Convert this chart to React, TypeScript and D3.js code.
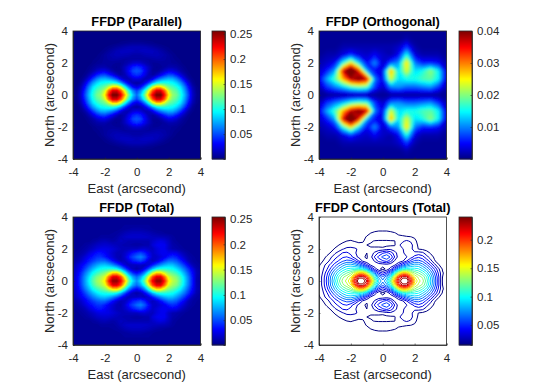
import React, { useRef, useEffect } from 'react'
import * as d3 from 'd3'

// x >= 0, y >= 0 quadrant, sampled every 0.25 arcsec from (0,0) outwards
const parallelRows = [
  [.06,.085,.125,.18,.23,.26,.26,.22,.165,.135,.125,.105,.08,.05,.02,.007,.003],
  [.05,.07,.105,.155,.205,.235,.235,.2,.15,.128,.118,.1,.075,.045,.018,.006,.003],
  [.025,.035,.062,.1,.145,.17,.17,.148,.125,.115,.105,.09,.065,.036,.014,.005,.003],
  [.01,.014,.027,.048,.075,.096,.105,.105,.102,.098,.088,.072,.048,.024,.008,.003,.003],
  [.025,.022,.015,.017,.03,.05,.065,.075,.08,.078,.066,.048,.028,.012,.005,.003,.003],
  [.045,.04,.027,.014,.01,.018,.03,.042,.052,.05,.04,.026,.014,.006,.003,.003,.003],
  [.055,.05,.033,.018,.008,.007,.012,.02,.027,.026,.02,.012,.007,.004,.003,.003,.003],
  [.045,.04,.028,.017,.009,.006,.007,.01,.013,.013,.011,.008,.005,.003,.003,.003,.003],
  [.022,.02,.015,.011,.008,.008,.009,.009,.009,.008,.007,.005,.003,.003,.003,.003,.003],
  [.01,.01,.01,.01,.011,.012,.012,.011,.009,.007,.005,.004,.003,.003,.003,.003,.003],
  [.012,.012,.014,.015,.016,.016,.014,.012,.009,.006,.004,.003,.003,.003,.003,.003,.003],
  [.016,.017,.018,.018,.017,.015,.012,.009,.006,.004,.003,.003,.003,.003,.003,.003,.003],
  [.015,.015,.015,.013,.011,.009,.007,.005,.004,.003,.003,.003,.003,.003,.003,.003,.003],
  [.008,.008,.007,.006,.005,.004,.003,.003,.003,.003,.003,.003,.003,.003,.003,.003,.003],
  [.003,.003,.003,.003,.003,.003,.003,.003,.003,.003,.003,.003,.003,.003,.003,.003,.003],
  [.003,.003,.003,.003,.003,.003,.003,.003,.003,.003,.003,.003,.003,.003,.003,.003,.003],
  [.003,.003,.003,.003,.003,.003,.003,.003,.003,.003,.003,.003,.003,.003,.003,.003,.003],
]

// total map, y >= 0, columns run outwards from x = 0 towards x = -4
const totalLeft = [
  [.07,.09,.125,.18,.225,.25,.25,.215,.165,.145,.135,.118,.095,.072,.05,.03,.017],
  [.06,.075,.105,.155,.205,.23,.23,.195,.152,.138,.128,.112,.09,.07,.048,.03,.017],
  [.035,.045,.068,.105,.145,.17,.168,.148,.13,.12,.11,.098,.08,.062,.043,.027,.016],
  [.012,.017,.032,.055,.08,.098,.105,.105,.103,.1,.092,.08,.066,.05,.035,.024,.016],
  [.018,.017,.017,.024,.04,.055,.068,.078,.083,.082,.074,.064,.052,.04,.03,.021,.0135],
  [.045,.04,.027,.018,.016,.024,.036,.05,.06,.06,.056,.048,.04,.03,.021,.015,.011],
  [.06,.05,.038,.022,.014,.016,.023,.03,.04,.047,.045,.039,.032,.024,.0165,.012,.009],
  [.045,.038,.028,.02,.015,.016,.021,.027,.033,.038,.037,.03,.024,.016,.012,.01,.008],
  [.018,.018,.017,.016,.017,.02,.024,.027,.028,.028,.025,.02,.016,.012,.01,.008,.008],
  [.011,.012,.013,.014,.015,.017,.019,.021,.022,.021,.019,.015,.012,.01,.008,.008,.008],
  [.014,.014,.0145,.016,.018,.014,.012,.014,.016,.015,.012,.01,.008,.008,.008,.008,.008],
  [.021,.021,.021,.019,.016,.012,.01,.01,.01,.01,.008,.008,.008,.008,.008,.008,.008],
  [.018,.018,.017,.015,.012,.01,.009,.008,.008,.008,.008,.008,.008,.008,.008,.008,.008],
  [.012,.012,.011,.01,.009,.008,.008,.008,.008,.008,.008,.008,.008,.008,.008,.008,.008],
  [.009,.009,.009,.009,.008,.008,.008,.008,.008,.008,.008,.008,.008,.008,.008,.008,.008],
  [.008,.008,.008,.008,.008,.008,.008,.008,.008,.008,.008,.008,.008,.008,.008,.008,.008],
  [.008,.008,.008,.008,.008,.008,.008,.008,.008,.008,.008,.008,.008,.008,.008,.008,.008],
]

// total map, y >= 0, columns run from x = 0 to x = 4
const totalRight = [
  [.07,.09,.125,.18,.225,.25,.25,.215,.165,.145,.135,.115,.09,.065,.038,.014,.01],
  [.06,.075,.105,.155,.205,.23,.23,.195,.152,.138,.128,.11,.087,.063,.038,.015,.01],
  [.035,.045,.068,.105,.145,.17,.168,.148,.13,.12,.11,.095,.076,.055,.034,.016,.011],
  [.012,.017,.032,.055,.08,.098,.105,.105,.103,.1,.09,.078,.062,.045,.028,.014,.01],
  [.018,.02,.017,.024,.04,.055,.068,.078,.083,.082,.072,.06,.046,.03,.016,.011,.009],
  [.045,.05,.04,.024,.017,.024,.036,.05,.06,.06,.055,.043,.03,.016,.011,.009,.008],
  [.06,.066,.055,.036,.02,.02,.025,.03,.04,.045,.04,.03,.02,.013,.01,.008,.008],
  [.045,.05,.042,.03,.02,.024,.029,.03,.028,.03,.028,.02,.014,.01,.008,.008,.008],
  [.018,.022,.023,.02,.018,.025,.029,.029,.02,.0145,.013,.011,.009,.008,.008,.008,.008],
  [.011,.012,.013,.014,.024,.029,.031,.03,.02,.013,.011,.009,.008,.008,.008,.008,.008],
  [.014,.014,.0145,.0148,.02,.024,.027,.024,.018,.011,.009,.008,.008,.008,.008,.008,.008],
  [.021,.021,.02,.019,.017,.017,.016,.0155,.0135,.01,.008,.008,.008,.008,.008,.008,.008],
  [.018,.018,.017,.0155,.013,.011,.01,.009,.008,.008,.008,.008,.008,.008,.008,.008,.008],
  [.012,.012,.011,.01,.009,.008,.008,.008,.008,.008,.008,.008,.008,.008,.008,.008,.008],
  [.009,.009,.009,.009,.008,.008,.008,.008,.008,.008,.008,.008,.008,.008,.008,.008,.008],
  [.008,.008,.008,.008,.008,.008,.008,.008,.008,.008,.008,.008,.008,.008,.008,.008,.008],
  [.008,.008,.008,.008,.008,.008,.008,.008,.008,.008,.008,.008,.008,.008,.008,.008,.008],
]

// y >= 0 only, x from -4 to 4 every 0.5 arcsec, y from 0 to 4 every 0.5
const orthogonalRows = [
  [.001,.001,.001,.001,.001,.001,.001,.001,.001,.001,.001,.001,.001,.001,.001,.001,.001],
  [.002,.007,.010,.013,.017,.019,.018,.007,.003,.010,.011,.009,.009,.010,.011,.007,.002],
  [.004,.012,.018,.028,.038,.041,.037,.010,.004,.024,.014,.016,.016,.018,.019,.015,.003],
  [.003,.006,.012,.036,.048,.035,.012,.005,.004,.029,.014,.024,.014,.016,.021,.015,.003],
  [.002,.003,.005,.016,.026,.014,.005,.011,.003,.008,.011,.027,.010,.006,.006,.005,.002],
  [.001,.002,.002,.004,.007,.004,.003,.005,.003,.002,.005,.016,.004,.002,.002,.002,.001],
  [.001,.001,.001,.002,.002,.002,.002,.002,.002,.002,.003,.007,.002,.001,.001,.001,.001],
  [.001,.001,.001,.001,.001,.001,.001,.001,.001,.001,.001,.002,.001,.001,.001,.001,.001],
  [.001,.001,.001,.001,.001,.001,.001,.001,.001,.001,.001,.001,.001,.001,.001,.001,.001],
]

const axisTicks = [-4, -2, 0, 2, 4]
const contourLevels = d3.range(0.015, 0.245, 0.0105)

const mirrorX = (rows: number[][]) => rows.map(r => r.slice(1).reverse().concat(r))
const joinHalves = (left: number[][], right: number[][]) => left.map((r, i) => r.slice(1).reverse().concat(right[i]))
const totalHalf = joinHalves(totalLeft, totalRight)

const panels = [
  { title: 'FFDP (Parallel)', left: 73, top: 31, barLeft: 212, domain: [0.0003, 0.256], barTicks: [0.05, 0.1, 0.15, 0.2, 0.25], half: mirrorX(parallelRows), kind: 'map', blur: 0.7, ylabelX: 54 },
  { title: 'FFDP (Orthogonal)', left: 319, top: 31, barLeft: 459, domain: [0, 0.04], barTicks: [0.01, 0.02, 0.03, 0.04], half: orthogonalRows, kind: 'map', blur: 1.5, ylabelX: 300 },
  { title: 'FFDP (Total)', left: 73, top: 217, barLeft: 212, domain: [0.001, 0.254], barTicks: [0.05, 0.1, 0.15, 0.2, 0.25], half: totalHalf, kind: 'map', blur: 0.7, ylabelX: 54 },
  { title: 'FFDP Contours (Total)', left: 319, top: 217, barLeft: 459, domain: [0.015, 0.24], barTicks: [0.05, 0.1, 0.15, 0.2], half: totalHalf, kind: 'contour', blur: 0, ylabelX: 300 },
]

const axisWidth = 127.5
const axisHeight = 128
const barWidth = 13
const ink = '#262626'
const fontFamily = '"Liberation Sans", Arial, sans-serif'

function jet(t: number) {
  const c = (v: number) => Math.round(255 * Math.max(0, Math.min(1, v)))
  return `rgb(${c(Math.min(4 * t - 1.5, -4 * t + 4.5))},${c(Math.min(4 * t - 0.5, -4 * t + 3.5))},${c(Math.min(4 * t + 0.5, -4 * t + 2.5))})`
}

export default function App() {
  const svgRef = useRef<SVGSVGElement>(null)

  useEffect(() => {
    const svg = d3.select(svgRef.current)
    svg.selectAll('*').remove()
    const defs = svg.append('defs')

    panels.forEach((p, idx) => {
      const x = d3.scaleLinear().domain([-4, 4]).range([p.left, p.left + axisWidth])
      const y = d3.scaleLinear().domain([-4, 4]).range([p.top + axisHeight, p.top])
      const color = d3.scaleLinear().domain(p.domain).range([0, 1]).clamp(true)

      // rows are stored from y = 0 upwards, the grid runs from the top of the picture down
      const grid = p.half.slice().reverse().concat(p.half.slice(1))
      const ny = grid.length
      const nx = grid[0].length
      const values = grid.flat()
      const gx = d3.scaleLinear().domain([0.5, nx - 0.5]).range([x(-4), x(4)])
      const gy = d3.scaleLinear().domain([0.5, ny - 0.5]).range([y(4), y(-4)])
      const project = d3.geoTransform({
        point(px, py) { this.stream.point(gx(px), gy(py)) },
      })
      const path = d3.geoPath(project)
      const contourGen = d3.contours().size([nx, ny])

      defs.append('clipPath').attr('id', `clip${idx}`)
        .append('rect').attr('x', p.left).attr('y', p.top).attr('width', axisWidth).attr('height', axisHeight)
      defs.append('filter').attr('id', `soft${idx}`).attr('x', '-5%').attr('y', '-5%').attr('width', '110%').attr('height', '110%')
        .append('feGaussianBlur').attr('stdDeviation', p.blur)

      const plot = svg.append('g').attr('clip-path', `url(#clip${idx})`)

      if (p.kind === 'contour') {
        plot.append('rect').attr('x', p.left).attr('y', p.top).attr('width', axisWidth).attr('height', axisHeight).attr('fill', '#fff')
        contourGen.thresholds(contourLevels)(values).forEach(c => {
          plot.append('path').attr('d', path(c as any)).attr('fill', 'none')
            .attr('stroke', jet(color(c.value))).attr('stroke-width', 1)
        })
      } else {
        plot.append('rect').attr('x', p.left).attr('y', p.top).attr('width', axisWidth).attr('height', axisHeight)
          .attr('fill', jet(color(d3.min(values) as number)))
        const levels = d3.range(129).map(i => p.domain[0] + (p.domain[1] - p.domain[0]) * i / 128)
        const fills = plot.append('g').attr('filter', `url(#soft${idx})`)
        contourGen.thresholds(levels)(values).forEach(c => {
          fills.append('path').attr('d', path(c as any)).attr('fill', jet(color(c.value)))
        })
      }

      const styleAxis = (g: any) => {
        g.selectAll('path').attr('stroke', ink).attr('stroke-width', 0.8)
        g.selectAll('line').attr('stroke', ink).attr('stroke-width', 0.6)
        g.selectAll('text').attr('fill', ink).attr('font-size', 11.5).attr('font-family', fontFamily)
      }
      svg.append('g').attr('transform', `translate(0,${p.top + axisHeight})`)
        .call(d3.axisBottom(x).tickValues(axisTicks).tickSize(-1.5).tickPadding(8.5).tickFormat(d => String(d)))
        .call(styleAxis)
      svg.append('g').attr('transform', `translate(${p.left},0)`)
        .call(d3.axisLeft(y).tickValues(axisTicks).tickSize(-1.5).tickPadding(5).tickFormat(d => String(d)))
        .call(styleAxis)
      svg.append('rect').attr('x', p.left).attr('y', p.top).attr('width', axisWidth).attr('height', axisHeight)
        .attr('fill', 'none').attr('stroke', ink).attr('stroke-width', 0.8)

      svg.append('text').attr('x', p.left + axisWidth / 2).attr('y', p.top - 5).attr('text-anchor', 'middle')
        .attr('font-family', fontFamily).attr('font-size', 12.8).attr('font-weight', 'bold').attr('fill', '#000').text(p.title)
      svg.append('text').attr('x', p.left + axisWidth / 2).attr('y', p.top + axisHeight + 33.5).attr('text-anchor', 'middle')
        .attr('font-family', fontFamily).attr('font-size', 13).attr('fill', ink).text('East (arcsecond)')
      svg.append('text').attr('transform', `translate(${p.ylabelX},${p.top + axisHeight / 2}) rotate(-90)`).attr('text-anchor', 'middle')
        .attr('font-family', fontFamily).attr('font-size', 13).attr('fill', ink).text('North (arcsecond)')

      // colorbar
      const barY = d3.scaleLinear().domain(p.domain).range([p.top + axisHeight, p.top])
      const steps = d3.range(64)
      const band = d3.scaleBand<number>().domain(steps).range([p.top + axisHeight, p.top])
      svg.append('g').selectAll('rect').data(steps).join('rect')
        .attr('x', p.barLeft).attr('width', barWidth)
        .attr('y', d => band(d) as number).attr('height', band.bandwidth() + 0.5)
        .attr('fill', d => jet((d + 0.5) / 64))
      svg.append('g').attr('transform', `translate(${p.barLeft + barWidth},0)`)
        .call(d3.axisRight(barY).tickValues(p.barTicks).tickSize(-1.5).tickPadding(5).tickFormat(d => String(+d)))
        .call(styleAxis)
      svg.append('rect').attr('x', p.barLeft).attr('y', p.top).attr('width', barWidth).attr('height', axisHeight)
        .attr('fill', 'none').attr('stroke', ink).attr('stroke-width', 0.8)
    })
  }, [])

  return <svg ref={svgRef} width={560} height={392} style={{ position: 'absolute', left: 0, top: 0, background: '#fff' }} />
}
